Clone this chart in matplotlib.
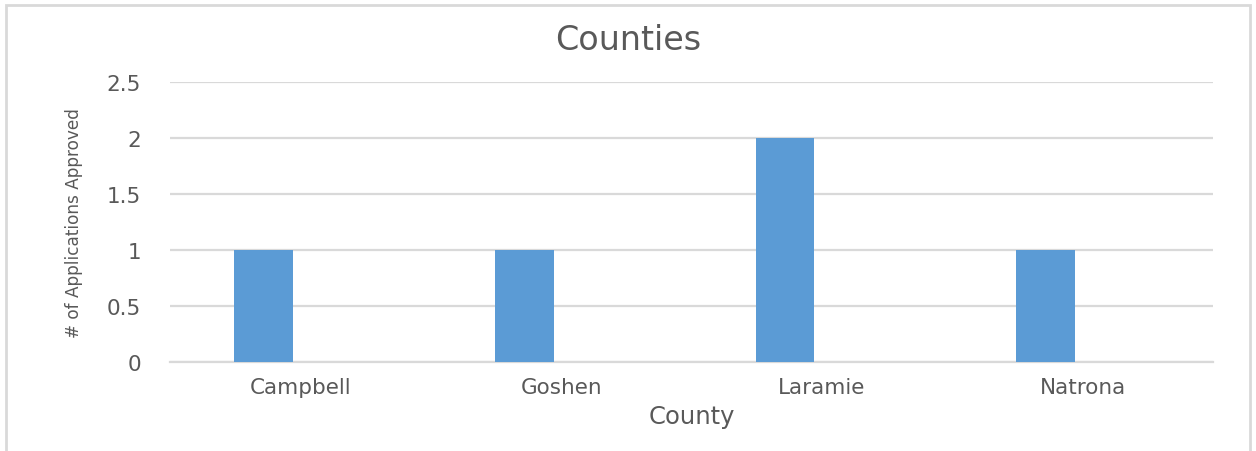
import matplotlib
matplotlib.use("Agg")
import matplotlib.pyplot as plt
from matplotlib.patches import Rectangle

counties = ["Campbell", "Goshen", "Laramie", "Natrona"]
approved = [1, 1, 2, 1]
y_ticks = [0, 0.5, 1, 1.5, 2, 2.5]
y_tick_labels = ["0", "0.5", "1", "1.5", "2", "2.5"]

TEXT = "#595959"
GRID = "#d9d9d9"
BAR = "#5b9bd5"

plt.rcParams["font.family"] = ["DejaVu Sans"]

fig = plt.figure(figsize=(12.56, 4.52), dpi=100)
ax = fig.add_axes([0.1354, 0.1969, 0.8304, 0.6195])

# bars sit left of the category centre, as in a clustered column chart
x = list(range(len(counties)))
ax.bar([i - 0.1415 for i in x], approved, width=0.226, color=BAR, zorder=3)

ax.set_xlim(-0.5, len(counties) - 0.5)
ax.set_ylim(0, 2.5)
ax.set_yticks(y_ticks)
ax.set_yticklabels(y_tick_labels)
ax.set_xticks(x)
ax.set_xticklabels(counties)
ax.yaxis.grid(True, color=GRID, linewidth=1.6, zorder=0)
ax.set_axisbelow(True)
for side in ("left", "right", "top"):
    ax.spines[side].set_visible(False)
ax.spines["bottom"].set_color(GRID)
ax.spines["bottom"].set_linewidth(1.6)
ax.tick_params(axis="both", length=0, colors=TEXT, labelsize=15.5)
ax.tick_params(axis="y", pad=21)
ax.tick_params(axis="x", pad=11)

ax.set_xlabel("County", color=TEXT, fontsize=17.5, labelpad=5)
ax.set_ylabel("# of Applications Approved", color=TEXT, fontsize=12.2, labelpad=17)

fig.text(0.5, 1 - 41 / 452, "Counties", ha="center", va="center",
         color=TEXT, fontsize=24)

# chart frame
fig.patches.append(Rectangle((6 / 1256, -0.05), (1250 - 6) / 1256, 1 - 6 / 452 + 0.05,
                             transform=fig.transFigure, fill=False,
                             edgecolor=GRID, linewidth=2))

fig.savefig("out.png", dpi=100)
